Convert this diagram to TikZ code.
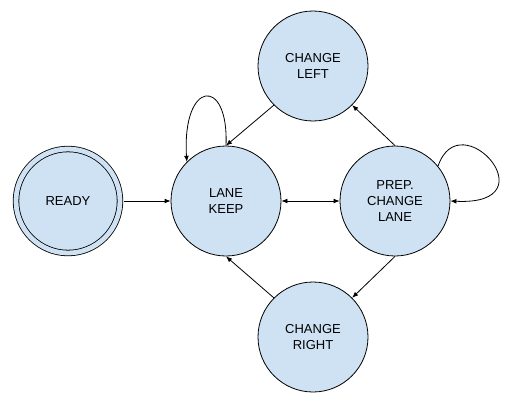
\documentclass[tikz,border=0pt]{standalone}
\usepackage{fontspec}
\setmainfont{Liberation Sans}
\usetikzlibrary{arrows.meta}
\definecolor{stateblue}{HTML}{CFE2F3}
\begin{document}
\begin{tikzpicture}[x=0.75pt, y=0.75pt, node distance=118.5pt, >={Latex[length=4.5pt,width=3.6pt]}, line width=0.6pt]
    \tikzstyle{state} = [circle, draw, fill=stateblue, minimum size=82.5pt, inner sep=0pt, align=center, font=\fontsize{9.75}{12}\selectfont]
    \tikzstyle{startstate} = [state, double=stateblue, double distance=3.6pt, minimum size=78pt, outer sep=2.7pt]

    \useasboundingbox (-68,-199) rectangle (442,201);

    % States
    \node [startstate] (ready) {READY};
    \node [state, right of=ready] (keep) {LANE\\KEEP};
    \node [state, right of=keep, xshift=8.25pt] (prep) {PREP.\\CHANGE\\LANE};
    \node [state, above of=keep, xshift=65.25pt, yshift=-17.25pt] (cleft) {CHANGE\\LEFT};
    \node [state, below of=keep, xshift=65.25pt, yshift=16.5pt] (cright) {CHANGE\\RIGHT};

    % Transitions
    \draw [->] (ready.east) -- (keep.west);
    \draw [<->] (keep.east) -- (prep.west);
    \draw [->] (cleft.225) -- (keep.north);
    \draw [->] (prep.north) -- (cleft.315);
    \draw [->] (prep.south) -- (cright.45);
    \draw [->] (cright.135) -- (keep.south);

    % Self loops
    \draw [->] (keep.90) .. controls +(3,70) and +(-5,82) .. (keep.135);
    \draw [->] (prep.39) .. controls +(22,65) and +(102,-5) .. (prep.0);
\end{tikzpicture}
\end{document}
